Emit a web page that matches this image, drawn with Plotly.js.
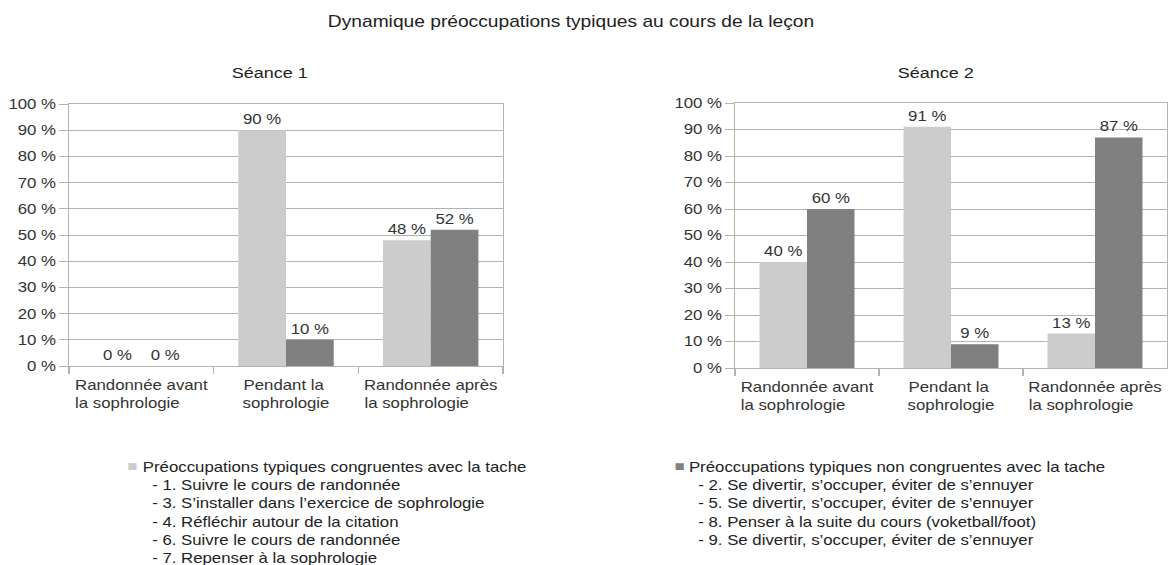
<!DOCTYPE html>
<html>
<head>
<meta charset="utf-8">
<script src="https://cdn.plot.ly/plotly-3.0.1.min.js"></script>
<style>
html,body{margin:0;padding:0;background:#fff;overflow:hidden;}
#chart{width:974px;height:565px;transform:scaleX(1.20021);transform-origin:0 0;}
</style>
</head>
<body>
<div id="chart"></div>
<script>
const categories = [
  "Randonnée avant<br>la sophrologie",
  "Pendant la<br>sophrologie",
  "Randonnée après<br>la sophrologie"
];
const seance1Congruentes = [0, 90, 48];
const seance1NonCongruentes = [0, 10, 52];
const seance2Congruentes = [40, 91, 13];
const seance2NonCongruentes = [60, 9, 87];
const yTicks = [0, 10, 20, 30, 40, 50, 60, 70, 80, 90, 100];
const seriesNames = [
  "Préoccupations typiques congruentes avec la tache",
  "Préoccupations typiques non congruentes avec la tache"
];
const detailsCongruentes = [
  "- 1. Suivre le cours de randonnée",
  "- 3. S’installer dans l’exercice de sophrologie",
  "- 4. Réfléchir autour de la citation",
  "- 6. Suivre le cours de randonnée",
  "- 7. Repenser à la sophrologie"
];
const detailsNonCongruentes = [
  "- 2. Se divertir, s’occuper, éviter de s’ennuyer",
  "- 5. Se divertir, s’occuper, éviter de s’ennuyer",
  "- 8. Penser à la suite du cours (voketball/foot)",
  "- 9. Se divertir, s’occuper, éviter de s’ennuyer"
];

const FONT = "Liberation Sans, Arial, sans-serif";
const LIGHT = "#cccccc";
const DARK = "#808080";
const GRID = "#b3b3b3";
const TXT = "#333333";

// left-align multi-line tick labels by padding shorter lines with nbsp
const ctx = document.createElement("canvas").getContext("2d");
ctx.font = "14px 'Liberation Sans'";
const NB = "\u00a0";
function leftAlign(label) {
  const lines = label.split("<br>");
  const w = lines.map(l => ctx.measureText(l).width);
  const max = Math.max(...w);
  const sp = ctx.measureText(NB).width;
  return lines.map((l, i) => l + NB.repeat(Math.round((max - w[i]) / sp))).join("<br>");
}
const tickLabels = categories.map(leftAlign);

function barTrace(y, color, xa, ya, name) {
  return {
    type: "bar", x: categories, y: y, xaxis: xa, yaxis: ya,
    name: name, showlegend: false,
    marker: {color: color, line: {width: 0}},
    text: y.map(v => v + " %"), textposition: "outside", cliponaxis: false,
    textfont: {family: FONT, size: 14, color: TXT},
    hoverinfo: "skip"
  };
}

const data = [
  barTrace(seance1Congruentes, LIGHT, "x", "y", seriesNames[0]),
  barTrace(seance1NonCongruentes, DARK, "x", "y", seriesNames[1]),
  barTrace(seance2Congruentes, LIGHT, "x2", "y2", seriesNames[0]),
  barTrace(seance2NonCongruentes, DARK, "x2", "y2", seriesNames[1])
];

function xAxis(domain, anchor) {
  return {
    domain: domain, anchor: anchor, type: "category",
    tickvals: categories, ticktext: tickLabels,
    showline: true, linecolor: GRID, linewidth: 1, mirror: true,
    ticks: "outside", tickson: "boundaries", ticklen: 7, tickcolor: GRID,
    ticklabelstandoff: 6,
    showgrid: false, tickfont: {family: FONT, size: 14, color: TXT},
    automargin: false, fixedrange: true
  };
}
function yAxis(domain, anchor) {
  return {
    domain: domain, anchor: anchor, range: [0, 100],
    tickvals: yTicks, ticktext: yTicks.map(v => v + " %"),
    showline: true, linecolor: GRID, linewidth: 1, mirror: true,
    ticks: "outside", ticklen: 7, tickcolor: GRID,
    showgrid: true, gridcolor: GRID, gridwidth: 1, zeroline: false,
    tickfont: {family: FONT, size: 14, color: TXT},
    automargin: false, fixedrange: true
  };
}

const SW = 1169, H = 565;       // screen size
const px = v => v / SW;         // screen x -> paper fraction
const py = v => (H - v) / H;    // screen y -> paper fraction

function legendAnnotations(x, color, title, details) {
  return [
    {text: "■", xref: "paper", yref: "paper", x: px(x), y: py(466),
     xanchor: "left", yanchor: "middle", showarrow: false,
     font: {family: FONT, size: 14, color: color}},
    {text: [title].concat(details.map(d => NB + NB + d)).join("<br>"),
     xref: "paper", yref: "paper", x: px(x + 15), y: py(457),
     xanchor: "left", yanchor: "top", align: "left", showarrow: false,
     font: {family: FONT, size: 14, color: "#222222"}}
  ];
}

const layout = {
  width: 974, height: H,
  margin: {l: 0, r: 0, t: 0, b: 0},
  paper_bgcolor: "#ffffff", plot_bgcolor: "#ffffff",
  font: {family: FONT, size: 14, color: TXT},
  title: {text: "Dynamique préoccupations typiques au cours de la leçon",
          font: {family: FONT, size: 16, color: "#222222"},
          x: px(571), xanchor: "center", y: py(21), yanchor: "middle",
          automargin: false},
  barmode: "group", bargap: 0.34, bargroupgap: 0,
  showlegend: false,
  xaxis: xAxis([px(69), px(503)], "y"),
  yaxis: yAxis([py(366), py(104)], "x"),
  xaxis2: xAxis([px(735), px(1167)], "y2"),
  yaxis2: yAxis([py(368), py(103)], "x2"),
  annotations: [
    {text: "Séance 1", xref: "paper", yref: "paper", x: px(270), y: py(72),
     xanchor: "center", yanchor: "middle", showarrow: false,
     font: {family: FONT, size: 15, color: "#222222"}},
    {text: "Séance 2", xref: "paper", yref: "paper", x: px(936), y: py(72),
     xanchor: "center", yanchor: "middle", showarrow: false,
     font: {family: FONT, size: 15, color: "#222222"}}
  ].concat(
    legendAnnotations(125, LIGHT, seriesNames[0], detailsCongruentes),
    legendAnnotations(672, DARK, seriesNames[1], detailsNonCongruentes)
  )
};

Plotly.newPlot("chart", data, layout, {displayModeBar: false, staticPlot: true});
</script>
</body>
</html>
